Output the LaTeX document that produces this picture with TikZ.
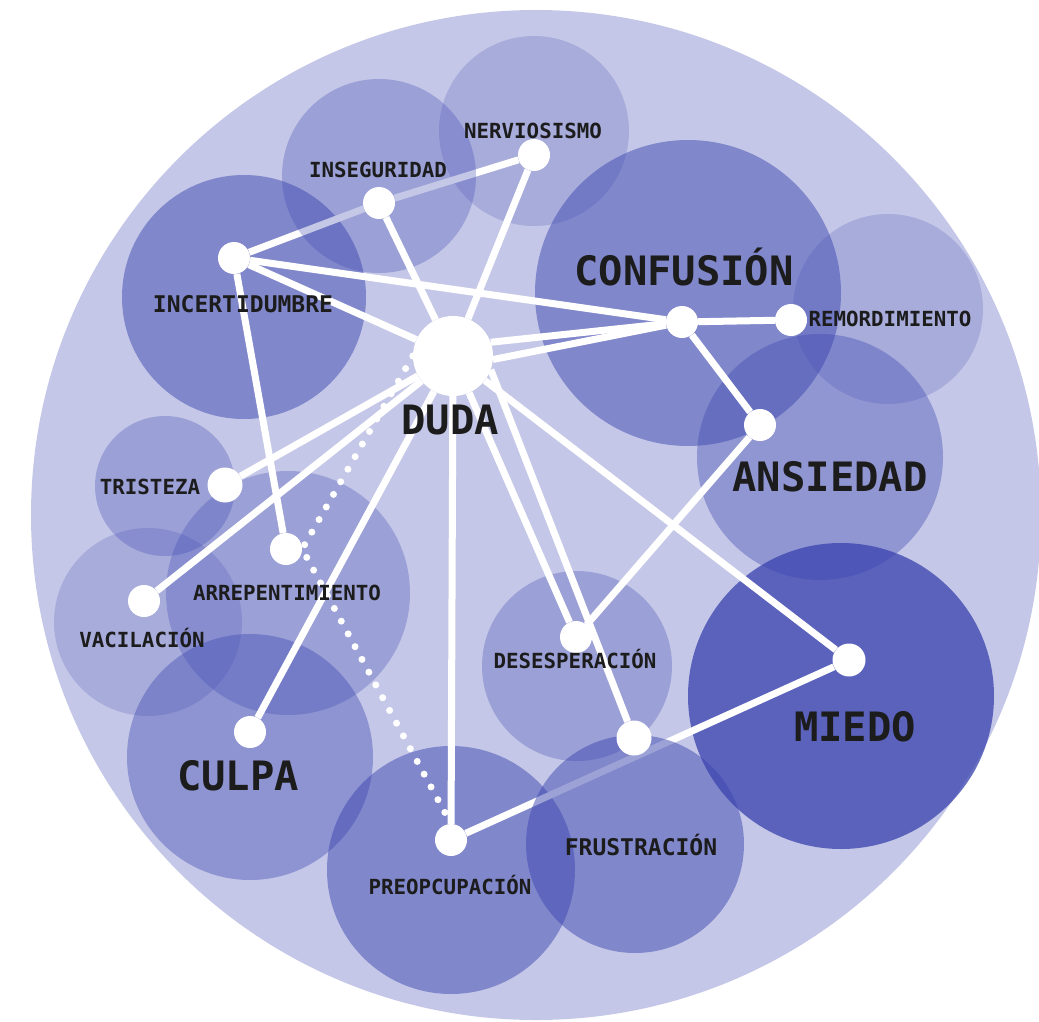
\documentclass[tikz,border=0pt]{standalone}
\usepackage{fontspec}
\newfontfamily\plex{DejaVu Sans Mono}
\definecolor{blob}{RGB}{60,70,175}
\definecolor{ink}{RGB}{28,28,28}
\pgfdeclarelayer{l0}
\pgfdeclarelayer{l1}
\pgfdeclarelayer{l2}
\pgfdeclarelayer{l3}
\pgfsetlayers{l0,l1,l2,l3,main}
\tikzset{
  dotnode/.style={circle,fill=white,inner sep=0pt,minimum size=32pt},
  bigdot/.style={circle,fill=white,inner sep=0pt,minimum size=80pt},
  link/.style={draw=white,line width=7pt},
  dotted link/.style={draw=white,line width=7pt,line cap=round,dash pattern=on 0pt off 14.5pt},
  blobfill/.style={fill=blob,fill opacity=#1},
  lblS/.style={text=ink,anchor=base,inner sep=0pt,font=\plex\bfseries\fontsize{20.8}{24}\selectfont},
  lblM/.style={text=ink,anchor=base,inner sep=0pt,font=\plex\bfseries\fontsize{23}{27}\selectfont},
  lblL/.style={text=ink,anchor=base,inner sep=0pt,font=\plex\bfseries\fontsize{40.5}{46}\selectfont},
}
\begin{document}
\begin{tikzpicture}[x=1pt,y=-1pt]
\useasboundingbox (0,0) rectangle (1039,1022);
% white dots
\node[bigdot] (duda) at (453,356) {};
\node[dotnode] (incert) at (234,258) {};
\node[dotnode] (inseg) at (379,203) {};
\node[dotnode] (nerv) at (534,155) {};
\node[dotnode] (conf) at (682,322) {};
\node[dotnode] (remord) at (791,320) {};
\node[dotnode] (ansi) at (760,425) {};
\node[dotnode,minimum size=33pt] (miedo) at (849,660) {};
\node[dotnode] (desesp) at (576,637) {};
\node[dotnode,minimum size=35pt] (frustr) at (634,738) {};
\node[dotnode] (preoc) at (451,840) {};
\node[dotnode] (culpa) at (250,732) {};
\node[dotnode] (arrep) at (286,549) {};
\node[dotnode] (vacil) at (144,601) {};
\node[dotnode,minimum size=35pt] (trist) at (225,485) {};
% labels
\node[lblS] (tNerv) at (533,139) {NERVIOSISMO};
\node[lblS] (tInseg) at (378,178) {INSEGURIDAD};
\node[lblM] (tIncert) at (243,312) {INCERTIDUMBRE};
\node[lblL] (tConf) at (684,285) {CONFUSIÓN};
\node[lblS] (tRemord) at (890,326) {REMORDIMIENTO};
\node[lblL] (tAnsi) at (830,491) {ANSIEDAD};
\node[lblL] (tDuda) at (450,434) {DUDA};
\node[lblS] (tTrist) at (150,494) {TRISTEZA};
\node[lblS] (tArrep) at (287,600) {ARREPENTIMIENTO};
\node[lblS] (tVacil) at (142,647) {VACILACIÓN};
\node[lblL] (tCulpa) at (238,790) {CULPA};
\node[lblS] (tDesesp) at (575,668) {DESESPERACIÓN};
\node[lblL] (tMiedo) at (855,741) {MIEDO};
\node[lblM] (tFrustr) at (641,855) {FRUSTRACIÓN};
\node[lblS] (tPreoc) at (450,894) {PREOPCUPACIÓN};
% background circles
\begin{pgfonlayer}{l0}
\fill[blobfill=0.3] (536,515) circle[radius=505];
\fill[blobfill=0.5] (244,297) circle[radius=122];
\fill[blobfill=0.21] (534,131) circle[radius=95];
\fill[blobfill=0.5] (688,293) circle[radius=153];
\fill[blobfill=0.21] (888,309) circle[radius=95];
\fill[blobfill=0.38] (820,457) circle[radius=123];
\fill[blobfill=0.78] (841,696) circle[radius=153];
\fill[blobfill=0.3] (577,666) circle[radius=95];
\fill[blobfill=0.5] (451,870) circle[radius=124];
\fill[blobfill=0.4] (250,757) circle[radius=123];
\fill[blobfill=0.3] (288,593) circle[radius=122];
\fill[blobfill=0.21] (148,622) circle[radius=94];
\fill[blobfill=0.3] (165,486) circle[radius=70];
\end{pgfonlayer}
% links that pass under some circles
\begin{pgfonlayer}{l1}
\path[link] (incert) -- (inseg) -- (nerv);
\path[link] (miedo) -- (preoc);
\end{pgfonlayer}
\begin{pgfonlayer}{l2}
\fill[blobfill=0.3] (379,176) circle[radius=97];
\fill[blobfill=0.5] (635,844) circle[radius=109];
\end{pgfonlayer}
% other links
\begin{pgfonlayer}{l3}
\path[link] (incert) -- (duda);
\path[link] (incert) -- (conf);
\path[link] (incert) -- (arrep);
\path[link] (inseg) -- (duda);
\path[link] (nerv) -- (duda);
\path[link] (duda.20) -- (conf);
\path[link] (duda.-5) -- (conf);
\path[link] (conf) -- (remord);
\path[link] (conf) -- (ansi);
\path[link] (ansi) -- (desesp);
\path[link] (duda) -- (desesp);
\path[link] (duda.-20) -- (frustr);
\path[link] (duda) -- (miedo);
\path[link] (duda) -- (preoc);
\path[link] (duda) -- (culpa);
\path[link] (duda) -- (trist);
\path[link] (duda) -- (vacil);
\path[dotted link] (duda.west) -- (arrep.east) -- (preoc.north);
\end{pgfonlayer}
\end{tikzpicture}
\end{document}
